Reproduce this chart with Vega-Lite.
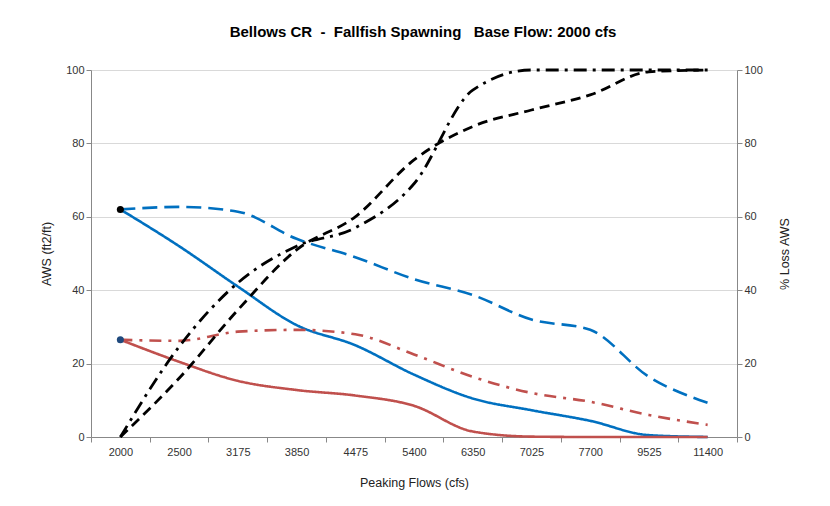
{
  "$schema": "https://vega.github.io/schema/vega-lite/v6.json",
  "width": 646,
  "height": 367,
  "autosize": {"type": "none"},
  "padding": {"left": 91, "top": 70, "right": 93, "bottom": 69},
  "background": "white",
  "title": {
    "text": "Bellows CR\u00a0\u00a0-\u00a0\u00a0Fallfish Spawning\u00a0\u00a0\u00a0Base Flow: 2000 cfs",
    "font": "Liberation Sans",
    "fontSize": 15,
    "fontWeight": "bold",
    "color": "black",
    "offset": 24,
    "dx": 9
  },
  "config": {
    "view": {"stroke": null},
    "font": "Liberation Sans",
    "axis": {
      "labelFont": "Liberation Sans",
      "labelFontSize": 11,
      "labelColor": "#333333",
      "titleFont": "Liberation Sans",
      "titleFontSize": 12.5,
      "titleFontWeight": "normal",
      "titleColor": "#222222",
      "domainColor": "#888888",
      "tickColor": "#888888",
      "tickSize": 5,
      "gridColor": "#d9d9d9"
    }
  },
  "datasets": {
    "lines": [
      {"flow": "2000", "series": "AWS peaking (spawning)", "value": 62},
      {"flow": "2500", "series": "AWS peaking (spawning)", "value": 52},
      {"flow": "3175", "series": "AWS peaking (spawning)", "value": 41},
      {"flow": "3850", "series": "AWS peaking (spawning)", "value": 30.5},
      {"flow": "4475", "series": "AWS peaking (spawning)", "value": 25},
      {"flow": "5400", "series": "AWS peaking (spawning)", "value": 17},
      {"flow": "6350", "series": "AWS peaking (spawning)", "value": 10.5},
      {"flow": "7025", "series": "AWS peaking (spawning)", "value": 7.3},
      {"flow": "7700", "series": "AWS peaking (spawning)", "value": 4.4},
      {"flow": "9525", "series": "AWS peaking (spawning)", "value": 0.5},
      {"flow": "11400", "series": "AWS peaking (spawning)", "value": 0},

      {"flow": "2000", "series": "AWS base (spawning)", "value": 62},
      {"flow": "2500", "series": "AWS base (spawning)", "value": 62.7},
      {"flow": "3175", "series": "AWS base (spawning)", "value": 61.4},
      {"flow": "3850", "series": "AWS base (spawning)", "value": 54},
      {"flow": "4475", "series": "AWS base (spawning)", "value": 49},
      {"flow": "5400", "series": "AWS base (spawning)", "value": 43},
      {"flow": "6350", "series": "AWS base (spawning)", "value": 38.7},
      {"flow": "7025", "series": "AWS base (spawning)", "value": 32},
      {"flow": "7700", "series": "AWS base (spawning)", "value": 29.2},
      {"flow": "9525", "series": "AWS base (spawning)", "value": 16.4},
      {"flow": "11400", "series": "AWS base (spawning)", "value": 9.3},

      {"flow": "2000", "series": "AWS peaking (incubation)", "value": 26.5},
      {"flow": "2500", "series": "AWS peaking (incubation)", "value": 20.5},
      {"flow": "3175", "series": "AWS peaking (incubation)", "value": 15.3},
      {"flow": "3850", "series": "AWS peaking (incubation)", "value": 12.8},
      {"flow": "4475", "series": "AWS peaking (incubation)", "value": 11.3},
      {"flow": "5400", "series": "AWS peaking (incubation)", "value": 8.5},
      {"flow": "6350", "series": "AWS peaking (incubation)", "value": 1.5},
      {"flow": "7025", "series": "AWS peaking (incubation)", "value": 0.1},
      {"flow": "7700", "series": "AWS peaking (incubation)", "value": 0},
      {"flow": "9525", "series": "AWS peaking (incubation)", "value": 0},
      {"flow": "11400", "series": "AWS peaking (incubation)", "value": 0},

      {"flow": "2000", "series": "AWS base (incubation)", "value": 26.5},
      {"flow": "2500", "series": "AWS base (incubation)", "value": 26.2},
      {"flow": "3175", "series": "AWS base (incubation)", "value": 28.7},
      {"flow": "3850", "series": "AWS base (incubation)", "value": 29.2},
      {"flow": "4475", "series": "AWS base (incubation)", "value": 28},
      {"flow": "5400", "series": "AWS base (incubation)", "value": 22.5},
      {"flow": "6350", "series": "AWS base (incubation)", "value": 16.4},
      {"flow": "7025", "series": "AWS base (incubation)", "value": 12},
      {"flow": "7700", "series": "AWS base (incubation)", "value": 9.6},
      {"flow": "9525", "series": "AWS base (incubation)", "value": 6},
      {"flow": "11400", "series": "AWS base (incubation)", "value": 3.3}
    ],
    "loss": [
      {"flow": "2000", "series": "% loss (spawning)", "value": 0},
      {"flow": "2500", "series": "% loss (spawning)", "value": 16},
      {"flow": "3175", "series": "% loss (spawning)", "value": 34.6},
      {"flow": "3850", "series": "% loss (spawning)", "value": 51},
      {"flow": "4475", "series": "% loss (spawning)", "value": 60},
      {"flow": "5400", "series": "% loss (spawning)", "value": 75.5},
      {"flow": "6350", "series": "% loss (spawning)", "value": 84.6},
      {"flow": "7025", "series": "% loss (spawning)", "value": 89.1},
      {"flow": "7700", "series": "% loss (spawning)", "value": 93.2},
      {"flow": "9525", "series": "% loss (spawning)", "value": 99.5},
      {"flow": "11400", "series": "% loss (spawning)", "value": 100},

      {"flow": "2000", "series": "% loss (incubation)", "value": 0},
      {"flow": "2500", "series": "% loss (incubation)", "value": 24.6},
      {"flow": "3175", "series": "% loss (incubation)", "value": 42},
      {"flow": "3850", "series": "% loss (incubation)", "value": 52},
      {"flow": "4475", "series": "% loss (incubation)", "value": 57},
      {"flow": "5400", "series": "% loss (incubation)", "value": 69},
      {"flow": "6350", "series": "% loss (incubation)", "value": 94.5},
      {"flow": "7025", "series": "% loss (incubation)", "value": 100},
      {"flow": "7700", "series": "% loss (incubation)", "value": 100},
      {"flow": "9525", "series": "% loss (incubation)", "value": 100},
      {"flow": "11400", "series": "% loss (incubation)", "value": 100}
    ],
    "markers": [
      {"flow": "2000", "series": "base point (spawning)", "value": 62},
      {"flow": "2000", "series": "base point (incubation)", "value": 26.5}
    ]
  },
  "encoding": {
    "x": {
      "field": "flow",
      "type": "ordinal",
      "bandPosition": 0.5,
      "scale": {
        "type": "band",
        "domain": ["2000", "2500", "3175", "3850", "4475", "5400", "6350", "7025", "7700", "9525", "11400"],
        "paddingInner": 0,
        "paddingOuter": 0
      },
      "axis": {
        "title": "Peaking Flows (cfs)",
        "labelAngle": 0,
        "tickBand": "extent",
        "labelPadding": 4,
        "titlePadding": 19,
        "grid": false
      }
    }
  },
  "layer": [
    {
      "data": {"name": "lines"},
      "mark": {"type": "line", "interpolate": "monotone", "strokeWidth": 2.6},
      "encoding": {
        "y": {
          "field": "value",
          "type": "quantitative",
          "scale": {"domain": [0, 100], "nice": false},
          "axis": {
            "title": "AWS (ft2/ft)",
            "values": [0, 20, 40, 60, 80, 100],
            "grid": true,
            "titlePadding": 12
          }
        },
        "color": {
          "field": "series",
          "type": "nominal",
          "legend": null,
          "scale": {
            "domain": ["AWS peaking (spawning)", "AWS base (spawning)", "AWS peaking (incubation)", "AWS base (incubation)", "% loss (spawning)", "% loss (incubation)", "base point (spawning)", "base point (incubation)"],
            "range": ["#0070C0", "#0070C0", "#C0504D", "#C0504D", "#000000", "#000000", "#000000", "#1F497D"]
          }
        },
        "strokeDash": {
          "field": "series",
          "type": "nominal",
          "legend": null,
          "scale": {
            "domain": ["AWS peaking (spawning)", "AWS base (spawning)", "AWS peaking (incubation)", "AWS base (incubation)", "% loss (spawning)", "% loss (incubation)"],
            "range": [[1, 0], [15, 7], [1, 0], [12, 7, 3, 7], [10, 6], [13, 6, 3, 6]]
          }
        }
      }
    },
    {
      "data": {"name": "loss"},
      "mark": {"type": "line", "interpolate": "monotone", "strokeWidth": 2.8},
      "encoding": {
        "y": {
          "field": "value",
          "type": "quantitative",
          "scale": {"domain": [0, 100], "nice": false},
          "axis": {
            "title": "% Loss AWS",
            "orient": "right",
            "titleAngle": 270,
            "values": [0, 20, 40, 60, 80, 100],
            "grid": false,
            "titlePadding": 29
          }
        },
        "color": {"field": "series", "type": "nominal", "legend": null},
        "strokeDash": {"field": "series", "type": "nominal", "legend": null}
      }
    },
    {
      "data": {"name": "markers"},
      "mark": {"type": "point", "filled": true, "size": 50, "opacity": 1},
      "encoding": {
        "y": {"field": "value", "type": "quantitative", "scale": {"domain": [0, 100], "nice": false}, "axis": null},
        "color": {"field": "series", "type": "nominal", "legend": null}
      }
    }
  ],
  "resolve": {"scale": {"y": "independent"}}
}
